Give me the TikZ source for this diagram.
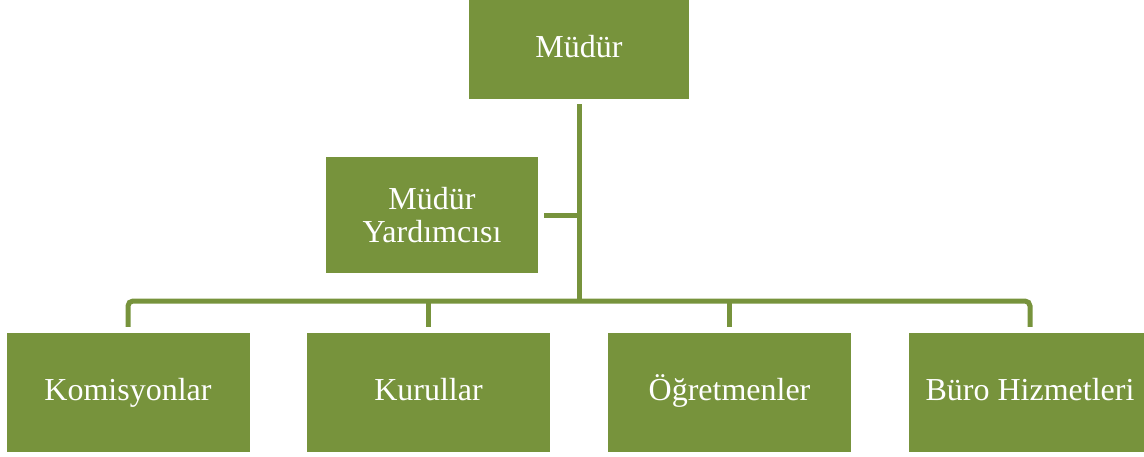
\documentclass[tikz,border=0pt]{standalone}
\usepackage{fontspec}
\setmainfont{Liberation Serif}
\definecolor{olive}{HTML}{77933C}
\begin{document}
\begin{tikzpicture}[x=1pt,y=-1pt,
  box/.style={fill=olive,draw=none,text=white,font=\fontsize{32}{33}\selectfont,align=center,inner sep=0pt},
  single/.style={box,text height=22pt,text depth=7pt},
  conn/.style={draw=olive,line width=5pt}]
\useasboundingbox (0,0) rectangle (1144,456);
\begin{scope}
\clip (0,0) rectangle (1144,456);
\node[single,minimum width=220pt,minimum height=99pt] (m) at (579,49.5) {Müdür};
\node[box,minimum width=212pt,minimum height=116pt] (y) at (432,215) {Müdür\\Yardımcısı};
\node[single,minimum width=243pt,minimum height=119pt] (k) at (128,392.5) {Komisyonlar};
\node[single,minimum width=243pt,minimum height=119pt] (ku) at (428.5,392.5) {Kurullar};
\node[single,minimum width=243pt,minimum height=119pt] (o) at (729.5,392.5) {Öğretmenler};
\node[single,minimum width=243pt,minimum height=119pt] (b) at (1030,392.5) {Büro Hizmetleri};
\coordinate (hub) at (579,301);
\draw[conn] ([yshift=-5pt]m.south) -- (hub);
\draw[conn] ([xshift=6pt]y.east) -- (y.east -| hub);
\draw[conn,rounded corners=5pt] ([yshift=6pt]k.north) |- (hub) -| ([yshift=6pt]b.north);
\draw[conn] ([yshift=6pt]ku.north) -- (ku.north |- hub);
\draw[conn] ([yshift=6pt]o.north) -- (o.north |- hub);
\end{scope}
\end{tikzpicture}
\end{document}
